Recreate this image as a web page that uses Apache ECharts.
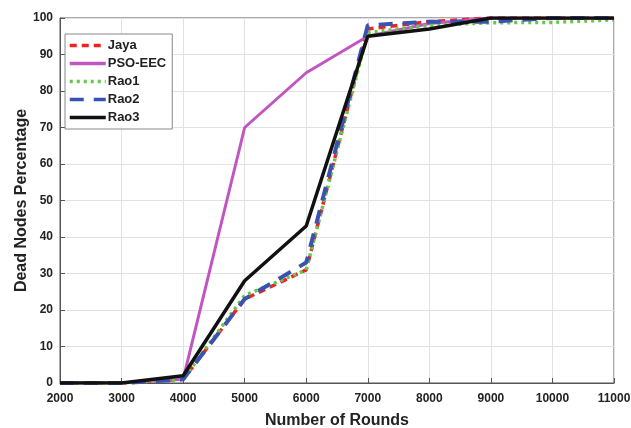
<!DOCTYPE html>
<html>
<head>
<meta charset="utf-8">
<script src="https://cdn.jsdelivr.net/npm/echarts@6/dist/echarts.min.js"></script>
<style>
  html, body { margin: 0; padding: 0; background: #fff; }
  #chart { width: 631px; height: 428px; }
</style>
</head>
<body>
<div id="chart"></div>
<script>
// Rounds on the x axis
const rounds = [2000, 3000, 4000, 5000, 6000, 7000, 8000, 9000, 10000, 11000];

// Dead node percentage per algorithm
const jaya   = [0, 0, 1, 23, 31, 97, 99, 100, 100, 100];
const psoEec = [0, 0, 1, 70, 85, 95, 98.5, 100, 100, 100];
const rao1   = [0, 0, 1, 24, 31, 96, 98, 98.7, 98.8, 99.5];
const rao2   = [0, 0, 1, 23, 33, 98, 99, 99, 100, 100];
const rao3   = [0, 0, 2, 28, 43, 95, 97, 100, 100, 100];

const pairs = vals => rounds.map((r, i) => [r, vals[i]]);
const font = 'Liberation Sans, Arial, sans-serif';

const chart = echarts.init(document.getElementById('chart'));

function line(name, vals, color, type, width) {
  return {
    name: name,
    type: 'line',
    data: pairs(vals),
    symbol: 'none',
    showSymbol: false,
    lineStyle: { color: color, type: type, width: width },
    itemStyle: { color: color },
    animation: false
  };
}

const axisCommon = {
  type: 'value',
  nameLocation: 'middle',
  nameMoveOverlap: false,
  nameTextStyle: { fontFamily: font, fontWeight: 'bold', fontSize: 16, color: '#222' },
  axisLine: { lineStyle: { color: '#555' } },
  axisTick: { inside: true, length: 5, lineStyle: { color: '#555' } },
  axisLabel: { fontFamily: font, fontWeight: 'bold', fontSize: 12, color: '#222',
               formatter: v => String(v) },
  splitLine: { show: true, lineStyle: { color: '#e2e2e2' } }
};

chart.setOption({
  backgroundColor: '#fff',
  animation: false,
  grid: {
    left: 60, right: 17, top: 18, bottom: 45,
    containLabel: false, outerBoundsMode: 'none',
    show: true, borderColor: '#555', borderWidth: 1
  },
  xAxis: Object.assign({}, axisCommon, {
    min: 2000, max: 11000, interval: 1000,
    name: 'Number of Rounds', nameGap: 30,
    axisLabel: Object.assign({}, axisCommon.axisLabel, { margin: 10 })
  }),
  yAxis: Object.assign({}, axisCommon, {
    min: 0, max: 100, interval: 10,
    name: 'Dead Nodes Percentage', nameGap: 30,
    axisLabel: Object.assign({}, axisCommon.axisLabel, { margin: 7 })
  }),
  legend: {
    orient: 'vertical',
    left: 65, top: 34,
    itemWidth: 36, itemHeight: 12, itemGap: 5,
    padding: [5, 6, 5, 3],
    backgroundColor: '#fff',
    borderColor: '#888', borderWidth: 1,
    itemStyle: { opacity: 0 },
    lineStyle: { width: 3.5 },
    textStyle: { fontFamily: font, fontWeight: 'bold', fontSize: 13, color: '#222', padding: [0, 0, 0, -3] },
    data: ['Jaya', 'PSO-EEC', 'Rao1', 'Rao2', 'Rao3']
  },
  series: [
    line('Jaya', jaya, '#ee2222', [7, 5], 3.5),
    line('PSO-EEC', psoEec, '#c155c1', 'solid', 3),
    line('Rao1', rao1, '#66c84a', [3, 4], 3.5),
    line('Rao2', rao2, '#3a52b0', [14, 10], 4),
    line('Rao3', rao3, '#111111', 'solid', 3.5)
  ]
});
</script>
</body>
</html>
